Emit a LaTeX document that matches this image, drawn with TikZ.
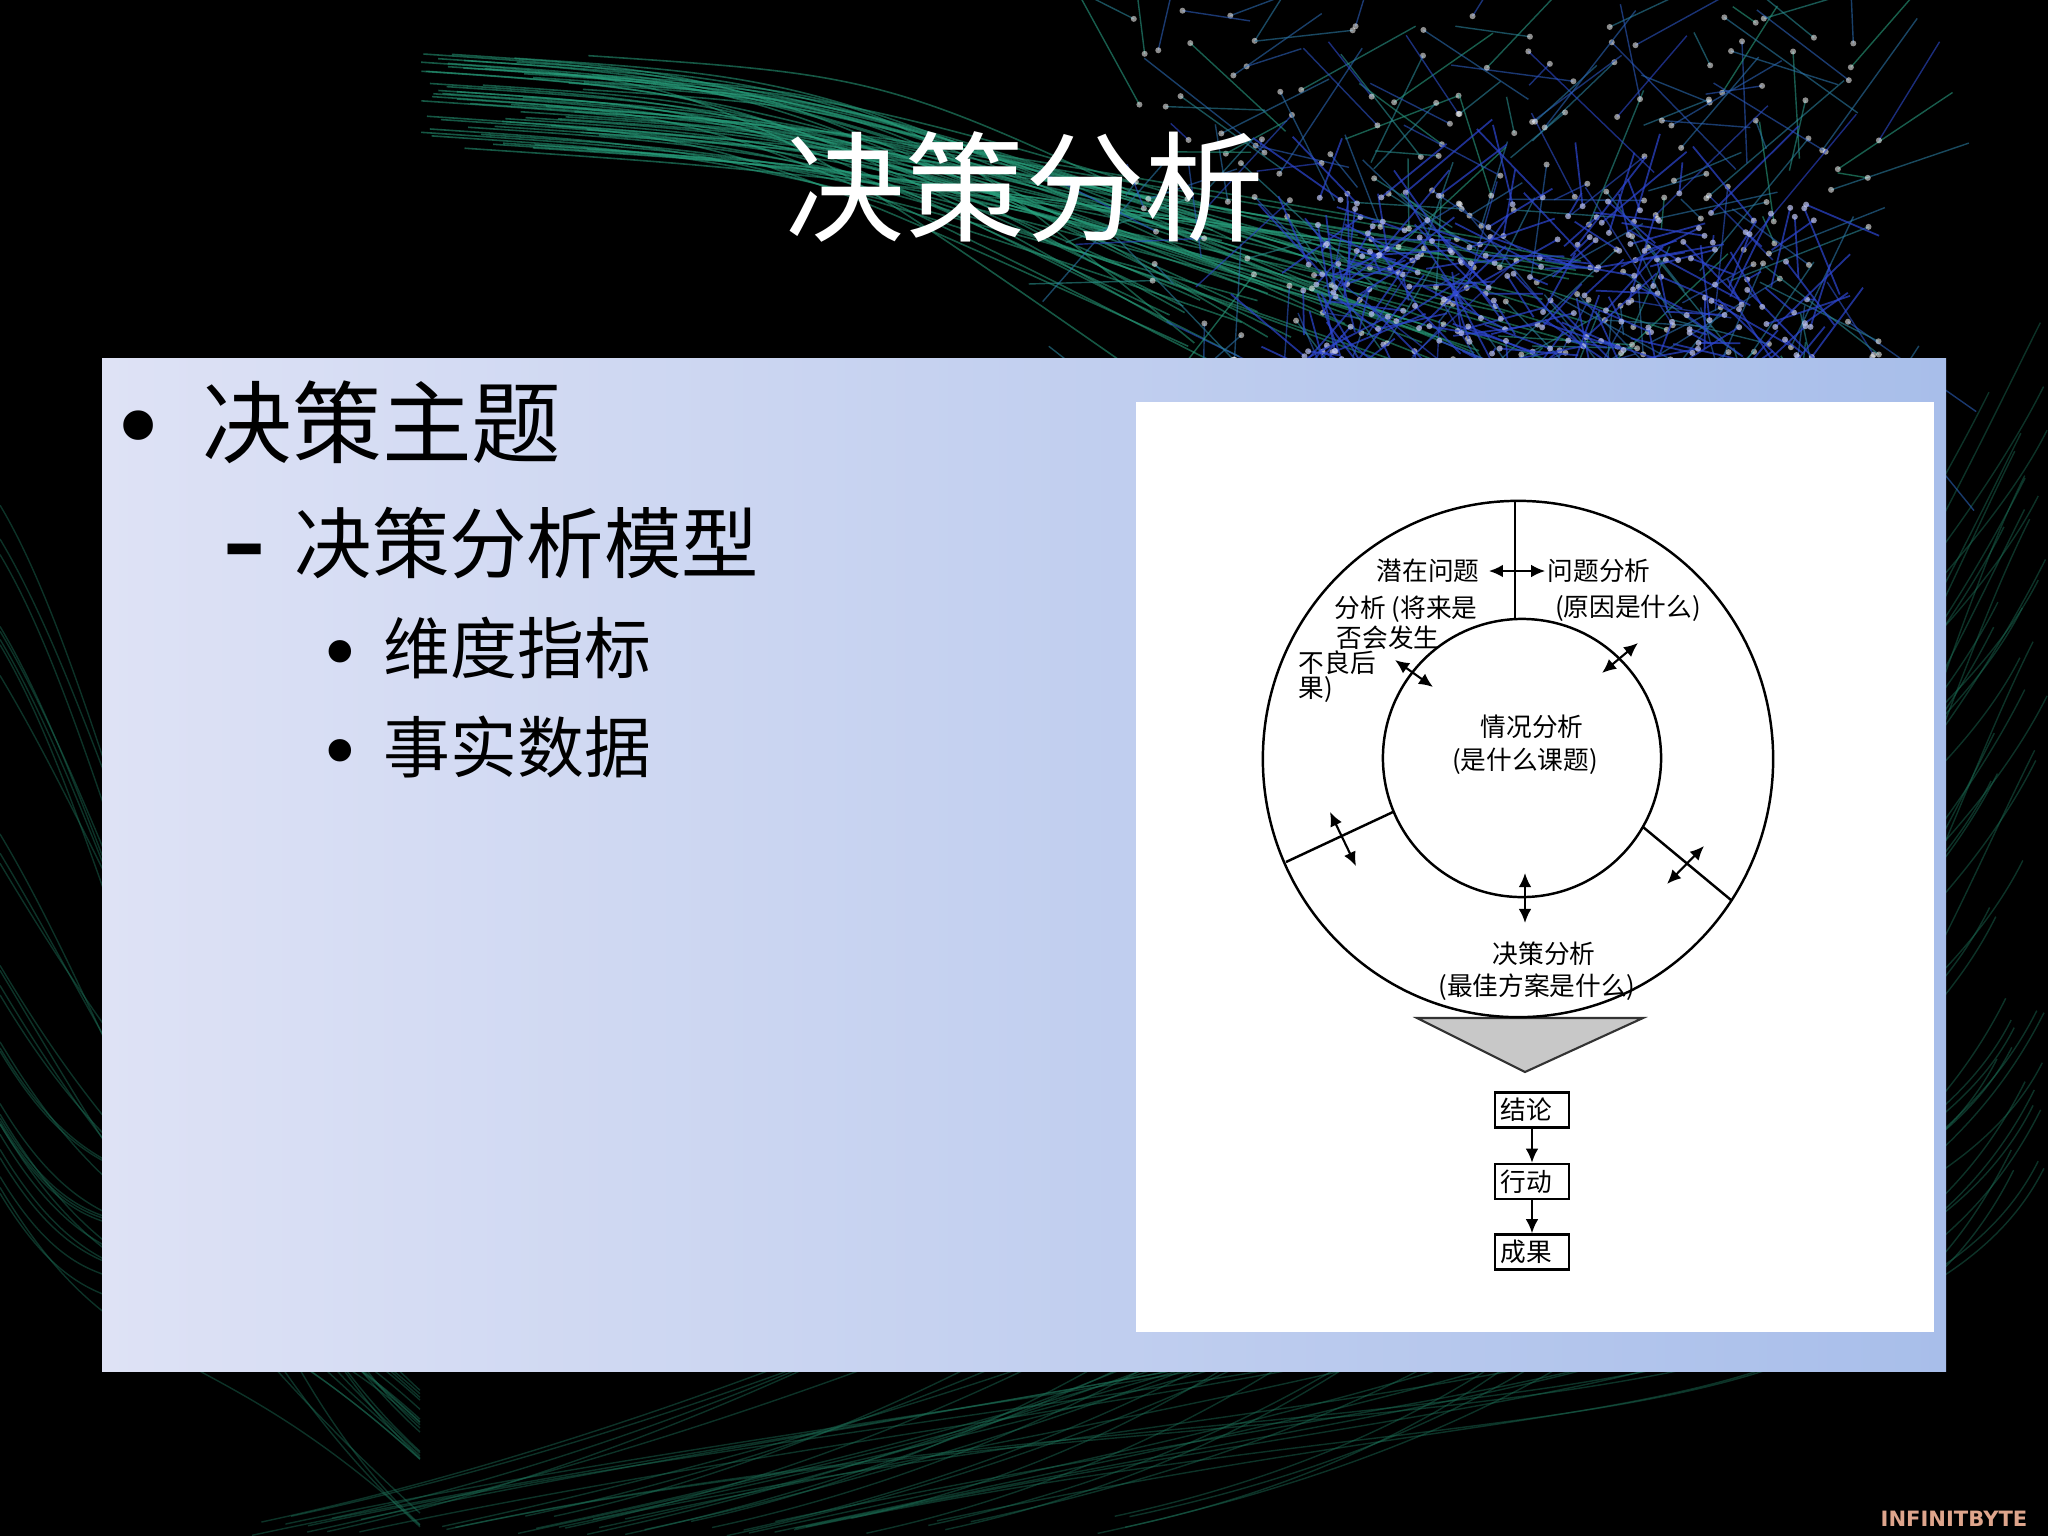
\documentclass[tikz,border=0pt]{standalone}
\usepackage{fontspec}
\setmainfont{Noto Sans CJK SC}
\newfontfamily\logofont{DejaVu Sans}
\usetikzlibrary{arrows.meta,positioning}
\definecolor{panelL}{RGB}{222,226,245}
\definecolor{panelR}{RGB}{168,190,234}
\definecolor{netgreen}{RGB}{40,160,125}
\definecolor{netblue}{RGB}{45,70,210}
\definecolor{logo}{RGB}{222,165,140}
\definecolor{trigray}{RGB}{200,200,200}
\begin{document}
\begin{tikzpicture}[x=0.01cm,y=-0.01cm,
    lbl/.style={font=\fontsize{7.3}{8}\selectfont, inner sep=0pt},
    mark1/.style={font=\logofont\fontsize{29}{31}\selectfont, inner sep=0pt, anchor=base, yshift=-0.075cm},
    mark3/.style={font=\logofont\fontsize{22}{24}\selectfont, inner sep=0pt, anchor=base, yshift=-0.065cm},
    dbl/.style={{Latex[length=4pt,width=3.6pt]}-{Latex[length=4pt,width=3.6pt]}, line width=0.6pt},
    flowbox/.style={draw, line width=0.7pt, font=\fontsize{7.3}{8}\selectfont,
      text width=0.62cm, inner xsep=0.06cm, inner ysep=0pt, minimum height=0.35cm, align=left},
    ring/.style={line width=0.7pt}]
  \useasboundingbox (0,0) rectangle (2048,1536);
  \fill[black] (0,0) rectangle (2048,1536);

  % network backdrop
  \pgfmathsetseed{42}
  \foreach \k in {1,...,45}{
    \pgfmathsetmacro\xs{230+900*rnd} \pgfmathsetmacro\ys{1536-20*rnd}
    \pgfmathsetmacro\xe{2048-60*rnd} \pgfmathsetmacro\ye{300+900*rnd}
    \draw[netgreen!70!black, opacity=0.45, line width=0.4pt]
      (\xs,\ys) .. controls (\xs+700,\ys-150) and (\xe-150,\ye+300) .. (\xe,\ye);
  }
  \foreach \k in {1,...,30}{
    \pgfmathsetmacro\ys{500+700*rnd} \pgfmathsetmacro\ye{1300+236*rnd}
    \draw[netgreen!70!black, opacity=0.45, line width=0.4pt]
      (0,\ys) .. controls (120,\ys+200) and (200,\ye-200) .. (420,\ye);
  }
  \foreach \k in {1,...,60}{
    \pgfmathsetmacro\xs{420+180*rnd} \pgfmathsetmacro\ys{50+100*rnd}
    \pgfmathsetmacro\xe{1150+450*rnd} \pgfmathsetmacro\ye{230+170*rnd}
    \draw[netgreen, opacity=0.55, line width=0.45pt]
      (\xs,\ys) .. controls (\xs+300,\ys+20) .. (\xe,\ye);
  }
  \foreach \k in {1,...,320}{
    \pgfmathsetmacro\xs{1500+380*rand} \pgfmathsetmacro\ys{270+260*rand}
    \pgfmathsetmacro\xe{\xs+140*rand} \pgfmathsetmacro\ye{\ys+140*rand}
    \pgfmathsetmacro\mix{50+50*rand}
    \draw[netblue!\mix!netgreen, opacity=0.6, line width=0.4pt] (\xs,\ys) -- (\xe,\ye);
    \fill[white, opacity=0.55] (\xs,\ys) circle[radius=0.03cm];
  }
  \foreach \k in {1,...,260}{
    \pgfmathsetmacro\xs{1560+260*rand} \pgfmathsetmacro\ys{300+110*rand}
    \pgfmathsetmacro\xe{\xs+90*rand} \pgfmathsetmacro\ye{\ys+90*rand}
    \draw[netblue, opacity=0.7, line width=0.5pt] (\xs,\ys) -- (\xe,\ye);
    \fill[white!70!netblue, opacity=0.7] (\xs,\ys) circle[radius=0.03cm];
  }

  % title and panel
  \node[text=white, font=\fontsize{34}{40}\selectfont, inner sep=0pt] (ttl) at (1025,187) {决策分析};
  \shade[left color=panelL, right color=panelR] (102,358) rectangle (1946,1371);
  \fill[white] (1136,402) rectangle (1934,1332);

  % bullet list
  \node[font=\fontsize{25.5}{30}\selectfont, inner sep=0pt, anchor=west] (it1) at (202,422) {决策主题};
  \node[font=\fontsize{22}{26}\selectfont, inner sep=0pt, anchor=west] (it2) at (294,543) {决策分析模型};
  \node[font=\fontsize{19}{22}\selectfont, inner sep=0pt, anchor=west] (it3) at (383,648) {维度指标};
  \node[font=\fontsize{19}{22}\selectfont, inner sep=0pt, anchor=west] (it4) at (383,747) {事实数据};
  \node[mark1] (dot1) at ([xshift=-0.63cm]it1.base west) {•};
  \node[font=\logofont\bfseries\fontsize{24}{26}\selectfont, inner sep=0pt, anchor=base]
    (dash2) at ([xshift=-0.49cm]it2.base west) {–};
  \node[mark3] (dot3) at ([xshift=-0.43cm]it3.base west) {•};
  \node[mark3] (dot4) at ([xshift=-0.43cm]it4.base west) {•};

  % model
  \filldraw[fill=trigray, draw=black!80, line width=0.6pt] (1417,1018) -- (1643,1018) -- (1525,1072) -- cycle;
  \coordinate (O) at (1518,759);
  \coordinate (I) at (1522,758);
  \draw[ring] (O) ellipse [x radius=2.55cm, y radius=2.58cm];
  \draw[ring] (I) circle [radius=1.39cm];
  \draw[ring] (1515,501) -- (1515,619);
  \draw[ring] (1286,862) -- (1393,812);
  \draw[ring] (1643,827) -- (1731,900);

  \node[lbl] (latent) at (1428,571) {潜在问题};
  \node[lbl] (probl) at (1599,571) {问题分析};
  \node[lbl] (cause) at (1628,608) {(原因是什么)};
  \node[lbl, anchor=west] (fut1) at (1334,609) {分析 (将来是};
  \node[lbl, anchor=west] (fut2) at (1336,638) {否会发生};
  \node[lbl, anchor=west] (fut3) at (1298,663) {不良后};
  \node[lbl, anchor=west] (fut4) at (1298,690) {果)};
  \node[lbl] (sit1) at (1532,727) {情况分析};
  \node[lbl] (sit2) at (1525,761) {(是什么课题)};
  \node[lbl] (dec1) at (1544,954) {决策分析};
  \node[lbl] (dec2) at (1537,987) {(最佳方案是什么)};

  \coordinate (ul1) at (1395,660);
  \coordinate (ul2) at (1433,687);
  \coordinate (ur1) at (1602,673);
  \coordinate (ur2) at (1638,643);
  \coordinate (ll1) at (1330,812);
  \coordinate (ll2) at (1356,866);
  \coordinate (bm1) at (1525,873);
  \coordinate (bm2) at (1525,923);
  \coordinate (lr1) at (1667,884);
  \coordinate (lr2) at (1704,846);
  \draw[dbl, shorten <=2.5pt, shorten >=0.5pt] (latent.east) -- (probl.west);
  \draw[dbl] (ul1) -- (ul2);
  \draw[dbl] (ur1) -- (ur2);
  \draw[dbl] (ll1) -- (ll2);
  \draw[dbl] (bm1) -- (bm2);
  \draw[dbl] (lr1) -- (lr2);

  \node[flowbox] (concl) at (1532,1110) {结论};
  \node[flowbox, below=0.34cm of concl] (act) {行动};
  \node[flowbox, below=0.33cm of act] (res) {成果};
  \draw[-{Latex[length=4pt,width=3.6pt]}, line width=0.6pt] (concl) -- (act);
  \draw[-{Latex[length=4pt,width=3.6pt]}, line width=0.6pt] (act) -- (res);

  \node[font=\logofont\bfseries\fontsize{6}{7}\selectfont, text=logo, inner sep=0pt] (brand) at (1954,1519) {INFINITBYTE};
\end{tikzpicture}
\end{document}
